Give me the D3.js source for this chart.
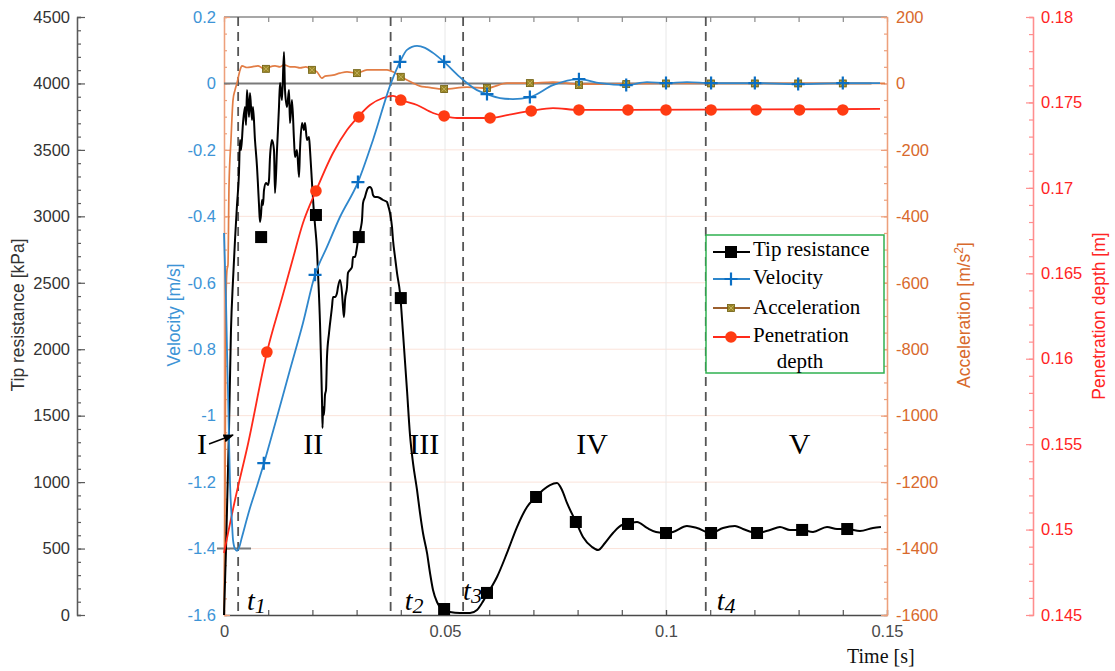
<!DOCTYPE html>
<html>
<head>
<meta charset="utf-8">
<script src="https://cdn.jsdelivr.net/npm/d3@7"></script>
<style>
  body { margin: 0; background: #fff; }
  svg { display: block; }
</style>
</head>
<body>
<svg id="chart" width="1115" height="671"></svg>
<script>
// ---- Measured series: [time (s), value] ----
const tipResistance = [
  [0,0],[0.00045,489],[0.00113,1392],[0.00158,2145],[0.00204,2521],[0.00249,2822],[0.00294,3085],
  [0.00339,3326],[0.00362,3574],[0.00385,3499],[0.0043,3702],[0.00475,3823],[0.00498,3687],[0.0052,3951],
  [0.00566,3747],[0.00588,3928],[0.00633,3725],[0.00656,3823],[0.00701,3574],[0.00747,3371],[0.00769,3236],
  [0.00792,3085],[0.00814,2957],[0.00837,3010],[0.0086,3123],[0.00882,3085],[0.00905,3198],[0.0095,3251],
  [0.00995,3236],[0.01018,3273],[0.01041,3446],[0.01086,3574],[0.01131,3499],[0.01154,3176],[0.01199,3499],
  [0.01244,3823],[0.01267,4003],[0.01312,3875],[0.01357,4237],[0.0138,3951],[0.01425,3823],[0.01471,3951],
  [0.01493,3702],[0.01538,3875],[0.01584,3574],[0.01606,3446],[0.01652,3499],[0.01697,3296],[0.01719,3499],
  [0.01765,3702],[0.0181,3650],[0.01833,3702],[0.01878,3574],[0.01923,3597],[0.01946,3499],[0.01991,3251],
  [0.02036,3025],[0.02059,2935],[0.02104,2747],[0.02127,2574],[0.02172,2197],[0.02195,1919],[0.02217,1618],
  [0.02229,1407],[0.0224,1565],[0.02262,1505],[0.02285,1656],[0.02308,1693],[0.0233,1941],[0.02376,2122],
  [0.02443,2318],[0.02466,2393],[0.02511,2393],[0.02557,2423],[0.02579,2468],[0.02624,2521],[0.0267,2423],
  [0.02692,2318],[0.02715,2242],[0.02738,2370],[0.02783,2468],[0.02805,2574],[0.02851,2596],[0.02896,2619],
  [0.02919,2694],[0.02964,2694],[0.03009,2769],[0.03032,2822],[0.031,2920],[0.03122,2972],[0.03145,3100],
  [0.0319,3145],[0.03235,3198],[0.03258,3213],[0.03303,3221],[0.03348,3198],[0.03371,3160],[0.03416,3145],
  [0.03462,3145],[0.03529,3138],[0.03597,3123],[0.03688,3108],[0.0371,3085],[0.03756,3025],[0.03801,2920],
  [0.03824,2822],[0.03869,2694],[0.03914,2574],[0.03982,2423],[0.0405,2122],[0.0414,1693],[0.04208,1355],
  [0.04276,1144],[0.04367,941],[0.04434,768],[0.04502,617],[0.04593,467],[0.04661,316],[0.04729,188],
  [0.04819,98],[0.04887,60],[0.05,38],[0.05113,23],[0.05339,15],[0.05566,15],[0.05724,38],[0.05837,90],
  [0.05973,166],[0.06176,286],[0.06403,467],[0.06629,662],[0.06855,813],[0.07059,888],[0.07217,941],
  [0.07376,978],[0.07534,993],[0.07647,941],[0.0776,843],[0.07964,700],[0.08122,587],[0.08326,512],
  [0.08462,489],[0.0862,542],[0.08801,617],[0.09005,677],[0.0914,685],[0.09344,700],[0.0957,655],
  [0.09774,625],[0.1,617],[0.10158,625],[0.10475,670],[0.10701,655],[0.11018,617],[0.1129,655],
  [0.11561,670],[0.11742,647],[0.12059,617],[0.12353,640],[0.12579,662],[0.12805,640],[0.13077,640],
  [0.13326,625],[0.13643,662],[0.13869,647],[0.14095,647],[0.14389,632],[0.14683,655],[0.14864,662]
];
const tipMarkers = [
  [0.0084,2844],[0.0208,3010],[0.0305,2844],[0.04,2385],[0.0498,45],[0.0595,166],[0.0706,888],
  [0.0796,700],[0.0914,685],[0.1,617],[0.1102,617],[0.1206,617],[0.1308,640],[0.141,647]
];

const velocity = [
  [0,-0.45],[0.00045,-0.652],[0.00068,-0.802],[0.0009,-0.923],[0.00136,-1.203],[0.00181,-1.323],
  [0.00204,-1.374],[0.00249,-1.401],[0.00294,-1.407],[0.00339,-1.398],[0.00407,-1.365],[0.00588,-1.278],
  [0.00747,-1.212],[0.00905,-1.143],[0.01199,-1.004],[0.01493,-0.862],[0.01787,-0.721],[0.02059,-0.576],
  [0.0233,-0.492],[0.02624,-0.402],[0.03032,-0.297],[0.03371,-0.17],[0.03778,0.001],[0.03982,0.065],
  [0.0414,0.101],[0.04367,0.113],[0.04548,0.107],[0.04729,0.092],[0.04977,0.065],[0.05339,0.019],
  [0.05724,-0.02],[0.0595,-0.032],[0.06244,-0.044],[0.06538,-0.047],[0.06923,-0.041],[0.07443,-0.005],
  [0.08032,0.013],[0.08507,0.001],[0.09095,-0.005],[0.0957,0.004],[0.1,0.001],[0.10475,0.004],
  [0.11018,0.001],[0.12014,0.001],[0.12986,-0.002],[0.14005,0.001],[0.14842,0.001]
];
const velocityMarkers = [
  [0.009,-1.143],[0.0206,-0.576],[0.0303,-0.297],[0.0398,0.065],[0.0498,0.065],[0.0595,-0.032],
  [0.0692,-0.041],[0.0803,0.013],[0.091,-0.005],[0.1,0.001],[0.1102,0.001],[0.1201,0.001],
  [0.1299,-0.002],[0.14,0.001]
];

const acceleration = [
  [0,-1600],[0.00023,-1254],[0.00045,-652],[0.00068,-561],[0.0009,-546],[0.00113,-312],[0.00158,-170],
  [0.00204,-50],[0.00249,-20],[0.00294,1],[0.00362,40],[0.00407,53],[0.0052,48],[0.00633,50],[0.00769,53],
  [0.0086,47],[0.0095,44],[0.01041,50],[0.01154,53],[0.01267,50],[0.01357,56],[0.01493,50],[0.01606,50],
  [0.01719,47],[0.01855,50],[0.01991,41],[0.02104,35],[0.02217,16],[0.02285,22],[0.02466,25],[0.02624,31],
  [0.02783,35],[0.03009,31],[0.03235,41],[0.03462,41],[0.03688,41],[0.03824,35],[0.04005,20],[0.0414,10],
  [0.04276,1],[0.04434,-8],[0.04593,-11],[0.04977,-17],[0.05498,-11],[0.0595,-14],[0.06403,1],[0.06923,1],
  [0.07443,4],[0.08032,-2],[0.08507,-2],[0.09095,-1],[0.1,0],[0.11018,0],[0.12014,0],[0.12986,0],
  [0.14005,0],[0.14955,0]
];
const accelerationMarkers = [
  [0.0095,44],[0.0199,41],[0.0301,31],[0.04,20],[0.0498,-17],[0.0595,-14],[0.0692,1],[0.0803,-5],
  [0.091,-2],[0.1,0],[0.1102,0],[0.1201,0],[0.1299,0],[0.14,0]
];

const penetrationDepth = [
  [0,0.14863],[0.00249,0.15173],[0.00543,0.15501],[0.00973,0.16039],[0.01312,0.16355],[0.01538,0.16566],
  [0.01787,0.16794],[0.02081,0.16982],[0.02466,0.17204],[0.02783,0.17339],[0.03032,0.17415],[0.03303,0.17485],
  [0.03597,0.17526],[0.03824,0.17538],[0.04005,0.17514],[0.04367,0.17485],[0.04729,0.17438],[0.04977,0.17421],
  [0.05271,0.17409],[0.05633,0.17409],[0.06018,0.17409],[0.06403,0.17426],[0.06946,0.1745],[0.07443,0.17467],
  [0.08032,0.17456],[0.0914,0.17456],[0.14842,0.17462]
];
const penetrationMarkers = [
  [0.0097,0.16039],[0.0208,0.16982],[0.0305,0.17415],[0.04,0.17514],[0.0498,0.17421],[0.0602,0.17409],
  [0.0695,0.1745],[0.0803,0.17456],[0.0914,0.17456],[0.1,0.17456],[0.1102,0.17456],[0.1204,0.17456],
  [0.1302,0.17456],[0.14,0.17456]
];

// ---- Axis ticks and annotations ----
const timeTicks = [0, 0.05, 0.1, 0.15];
const tipTicks = [0,500,1000,1500,2000,2500,3000,3500,4000,4500];
const velTicks = [0.2,0,-0.2,-0.4,-0.6,-0.8,-1,-1.2,-1.4,-1.6];
const accTicks = [200,0,-200,-400,-600,-800,-1000,-1200,-1400,-1600];
const penTicks = [0.18,0.175,0.17,0.165,0.16,0.155,0.15,0.145];
const phaseTimes = [0.0032, 0.0377, 0.0541, 0.109];
const phaseLabels = [["I",-0.0050],["II",0.0202],["III",0.0453],["IV",0.0833],["V",0.1302]];
const instantLabels = [["1",0.0052,0],["2",0.0409,0],["3",0.0541,-10],["4",0.1115,0]];
const minVelocity = -1.4;

// ---- Layout ----
const L = 224, R = 887, T = 17, B = 615;
const svg = d3.select("#chart");
const x = d3.scaleLinear().domain([0, 0.15]).range([L, R]);
const yTip = d3.scaleLinear().domain([0, 4500]).range([B, T]);
const yVel = d3.scaleLinear().domain([-1.6, 0.2]).range([B, T]);
const yAcc = d3.scaleLinear().domain([-1600, 200]).range([B, T]);
const yPen = d3.scaleLinear().domain([0.145, 0.18]).range([B, T]);

const SANS = "'Liberation Sans', Arial, sans-serif";
const SERIF = "'Liberation Serif', 'Times New Roman', serif";
const C = {
  tip: "#000000", tipAxis: "#5a5a5a", tipText: "#333333",
  vel: "#2f87cc", velMark: "#0b6fc4", velText: "#3d94d6",
  acc: "#e27d45", accAxis: "#eda07c", accText: "#d8692c", accMark: "#9a8626", accLegend: "#9c602e",
  pen: "#ff2a1a", penMark: "#ff3b12", penAxis: "#ff8e8e", penText: "#ff2424"
};

// grid
const grid = svg.append("g");
grid.selectAll("line.h").data(accTicks.filter(v => v < 0 && v > -1600)).join("line")
  .attr("x1", L).attr("x2", R).attr("y1", d => yAcc(d)).attr("y2", d => yAcc(d))
  .attr("stroke", "#fbe3da").attr("stroke-width", 1);
grid.selectAll("line.v").data([0.05, 0.1]).join("line")
  .attr("x1", d => x(d)).attr("x2", d => x(d)).attr("y1", T).attr("y2", B)
  .attr("stroke", "#e8e8e8").attr("stroke-width", 1);

function styleAxis(g, lineColor, textColor, size) {
  g.attr("font-family", null).attr("font-size", null);
  g.selectAll("path.domain").attr("stroke", lineColor).attr("stroke-width", 1.3);
  g.selectAll(".tick line").attr("stroke", lineColor).attr("stroke-width", 1.2);
  g.selectAll(".tick text").attr("fill", textColor)
    .style("font-family", SANS).style("font-size", size + "px");
}
const fmt = d => String(+d.toFixed(3));

// top frame
svg.append("line").attr("x1", L).attr("x2", R).attr("y1", T).attr("y2", T)
  .attr("stroke", "#8a8a8a").attr("stroke-width", 1.3);
const topMinor = svg.append("g").attr("transform", `translate(0,${T})`)
  .call(d3.axisTop(x).tickValues(d3.range(0, 16).map(i => i / 100)).tickSize(-5).tickFormat(""));
styleAxis(topMinor, "#8a8a8a", "#444", 15);
topMinor.select("path.domain").remove();

// bottom time axis
const xMinor = svg.append("g").attr("transform", `translate(0,${B})`)
  .call(d3.axisBottom(x).tickValues(d3.range(0, 16).map(i => i / 100)).tickSize(-5).tickFormat(""));
styleAxis(xMinor, "#555", "#444", 15);
xMinor.select("path.domain").remove();
const xAxis = svg.append("g").attr("transform", `translate(0,${B})`)
  .call(d3.axisBottom(x).tickValues(timeTicks).tickSizeInner(-5).tickSizeOuter(0).tickPadding(10).tickFormat(fmt));
styleAxis(xAxis, "#4a4a4a", "#4a4a4a", 16.5);

// left tip resistance axis
const tipMinor = svg.append("g").attr("transform", "translate(77,0)")
  .call(d3.axisLeft(yTip).tickValues(d3.range(0, 4501, 100)).tickSize(-4).tickFormat(""));
styleAxis(tipMinor, C.tipAxis, C.tipText, 16);
const tipAxis = svg.append("g").attr("transform", "translate(77,0)")
  .call(d3.axisLeft(yTip).tickValues(tipTicks).tickSizeInner(-8).tickSizeOuter(0).tickPadding(7).tickFormat(fmt));
styleAxis(tipAxis, C.tipAxis, C.tipText, 16.5);

// left plot edge: velocity labels and acceleration box ticks
const accLeftMinor = svg.append("g").attr("transform", `translate(${L},0)`)
  .call(d3.axisLeft(yAcc).tickValues(d3.range(-1600, 201, 50)).tickSize(-3).tickFormat(""));
styleAxis(accLeftMinor, C.accAxis, C.accText, 15);
const velAxis = svg.append("g").attr("transform", `translate(${L},0)`)
  .call(d3.axisLeft(yVel).tickValues(velTicks).tickSizeInner(-6).tickSizeOuter(0).tickPadding(8).tickFormat(fmt));
styleAxis(velAxis, C.accAxis, C.velText, 16.5);

// right acceleration axis
const accMinor = svg.append("g").attr("transform", `translate(${R},0)`)
  .call(d3.axisRight(yAcc).tickValues(d3.range(-1600, 201, 50)).tickSize(-3).tickFormat(""));
styleAxis(accMinor, C.accAxis, C.accText, 15);
const accAxis = svg.append("g").attr("transform", `translate(${R},0)`)
  .call(d3.axisRight(yAcc).tickValues(accTicks).tickSizeInner(-6).tickSizeOuter(0).tickPadding(9).tickFormat(fmt));
styleAxis(accAxis, C.accAxis, C.accText, 16.5);

// right penetration depth axis
const penMinor = svg.append("g").attr("transform", "translate(1033,0)")
  .call(d3.axisRight(yPen).tickValues(d3.range(145, 181).map(v => v / 1000)).tickSize(-4).tickFormat(""));
styleAxis(penMinor, C.penAxis, C.penText, 15);
const penAxis = svg.append("g").attr("transform", "translate(1033,0)")
  .call(d3.axisRight(yPen).tickValues(penTicks).tickSizeInner(-7).tickSizeOuter(0).tickPadding(8).tickFormat(fmt));
styleAxis(penAxis, C.penAxis, C.penText, 16.5);

// axis titles
function vTitle(xPos, yPos, color) {
  return svg.append("text").attr("transform", `translate(${xPos},${yPos}) rotate(-90)`)
    .attr("text-anchor", "middle").attr("fill", color)
    .style("font-family", SANS).style("font-size", "17.5px");
}
vTitle(24, 315, C.tipText).text("Tip resistance [kPa]");
vTitle(180, 315, C.velText).text("Velocity [m/s]");
const accTitle = vTitle(970, 315, C.accText);
accTitle.append("tspan").text("Acceleration [m/s");
accTitle.append("tspan").attr("dy", -7).style("font-size", "12px").text("2");
accTitle.append("tspan").attr("dy", 7).text("]");
vTitle(1105, 316, C.penText).text("Penetration depth [m]");

svg.append("text").attr("x", 847).attr("y", 663).attr("fill", "#111")
  .style("font-family", SERIF).style("font-size", "20px").text("Time [s]");

// reference lines
svg.append("line").attr("x1", x(0)).attr("x2", x(0.1465)).attr("y1", yVel(0)).attr("y2", yVel(0))
  .attr("stroke", "#7a7a7a").attr("stroke-width", 2);
svg.append("line").attr("x1", 217).attr("x2", 251).attr("y1", yVel(minVelocity)).attr("y2", yVel(minVelocity))
  .attr("stroke", "#7a7a7a").attr("stroke-width", 2);
svg.selectAll("line.phase").data(phaseTimes).join("line")
  .attr("x1", d => x(d)).attr("x2", d => x(d)).attr("y1", T).attr("y2", B)
  .attr("stroke", "#555").attr("stroke-width", 1.8).attr("stroke-dasharray", "9,6");

// curves
const mk = (y) => d3.line().x(d => x(d[0])).y(d => y(d[1])).curve(d3.curveMonotoneX);
svg.append("path").attr("d", mk(yAcc)(acceleration)).attr("fill", "none")
  .attr("stroke", C.acc).attr("stroke-width", 1.7);
svg.append("path").attr("d", mk(yTip)(tipResistance)).attr("fill", "none")
  .attr("stroke", C.tip).attr("stroke-width", 2).attr("stroke-linejoin", "round");
svg.append("path").attr("d", mk(yPen)(penetrationDepth)).attr("fill", "none")
  .attr("stroke", C.pen).attr("stroke-width", 1.8);
svg.append("path").attr("d", mk(yVel)(velocity)).attr("fill", "none")
  .attr("stroke", C.vel).attr("stroke-width", 1.8);

// marker shapes
function squareMark(g, cx, cy) {
  g.append("rect").attr("x", cx - 6).attr("y", cy - 6).attr("width", 12).attr("height", 12).attr("fill", C.tip);
}
function plusMark(g, cx, cy) {
  g.append("path").attr("d", `M${cx - 6.5},${cy}H${cx + 6.5}M${cx},${cy - 6.5}V${cy + 6.5}`)
    .attr("stroke", C.velMark).attr("stroke-width", 2.2);
}
function accMark(g, cx, cy) {
  g.append("rect").attr("x", cx - 3.5).attr("y", cy - 3.5).attr("width", 7).attr("height", 7)
    .attr("fill", C.accMark).attr("stroke", "#6e5e0e").attr("stroke-width", 0.8);
  g.append("path").attr("d", `M${cx - 2.5},${cy - 2.5}L${cx + 2.5},${cy + 2.5}M${cx + 2.5},${cy - 2.5}L${cx - 2.5},${cy + 2.5}`)
    .attr("stroke", "#c9b869").attr("stroke-width", 0.8);
}
function dotMark(g, cx, cy) {
  g.append("circle").attr("cx", cx).attr("cy", cy).attr("r", 5.8).attr("fill", C.penMark);
}
const marks = svg.append("g");
tipMarkers.forEach(d => squareMark(marks, x(d[0]), yTip(d[1])));
accelerationMarkers.forEach(d => accMark(marks, x(d[0]), yAcc(d[1])));
penetrationMarkers.forEach(d => dotMark(marks, x(d[0]), yPen(d[1])));
velocityMarkers.forEach(d => plusMark(marks, x(d[0]), yVel(d[1])));

// phase numerals and instants
svg.selectAll("text.phase").data(phaseLabels).join("text")
  .attr("x", d => x(d[1])).attr("y", 454).attr("text-anchor", "middle").attr("fill", "#000")
  .style("font-family", SERIF).style("font-size", "30px").text(d => d[0]);
instantLabels.forEach(([n, t, dy]) => {
  const tx = svg.append("text").attr("x", x(t)).attr("y", 610 + dy).attr("fill", "#000")
    .style("font-family", SERIF).style("font-style", "italic").style("font-size", "28px");
  tx.append("tspan").text("t");
  tx.append("tspan").attr("dy", 3).style("font-size", "22px").text(n);
});

// arrow pointing at phase I
svg.append("defs").append("marker").attr("id", "arrowHead")
  .attr("viewBox", "0 0 10 10").attr("refX", 9).attr("refY", 5)
  .attr("markerWidth", 7).attr("markerHeight", 7).attr("orient", "auto")
  .append("path").attr("d", "M0,1L10,5L0,9Z").attr("fill", "#000");
svg.append("line").attr("x1", 209).attr("y1", 444).attr("x2", 233).attr("y2", 435)
  .attr("stroke", "#000").attr("stroke-width", 1.5).attr("marker-end", "url(#arrowHead)");

// legend
const lg = svg.append("g");
lg.append("rect").attr("x", 706).attr("y", 235).attr("width", 178).attr("height", 138)
  .attr("fill", "#fff").attr("stroke", "#2fb150").attr("stroke-width", 1.5);
const legendRows = [
  { label: "Tip resistance", y: 252, base: 256, color: C.tip, mark: squareMark },
  { label: "Velocity", y: 279, base: 284, color: C.vel, mark: plusMark },
  { label: "Acceleration", y: 308, base: 314, color: C.accLegend, mark: accMark },
  { label: "Penetration", y: 337, base: 342, color: C.pen, mark: dotMark }
];
legendRows.forEach(r => {
  lg.append("line").attr("x1", 713).attr("x2", 750).attr("y1", r.y).attr("y2", r.y)
    .attr("stroke", r.color).attr("stroke-width", 1.8);
  r.mark(lg, 731, r.y);
  lg.append("text").attr("x", 753).attr("y", r.base).attr("fill", "#000")
    .style("font-family", SERIF).style("font-size", "21px").text(r.label);
});
lg.append("text").attr("x", 800).attr("y", 368).attr("text-anchor", "middle").attr("fill", "#000")
  .style("font-family", SERIF).style("font-size", "21px").text("depth");
</script>
</body>
</html>
